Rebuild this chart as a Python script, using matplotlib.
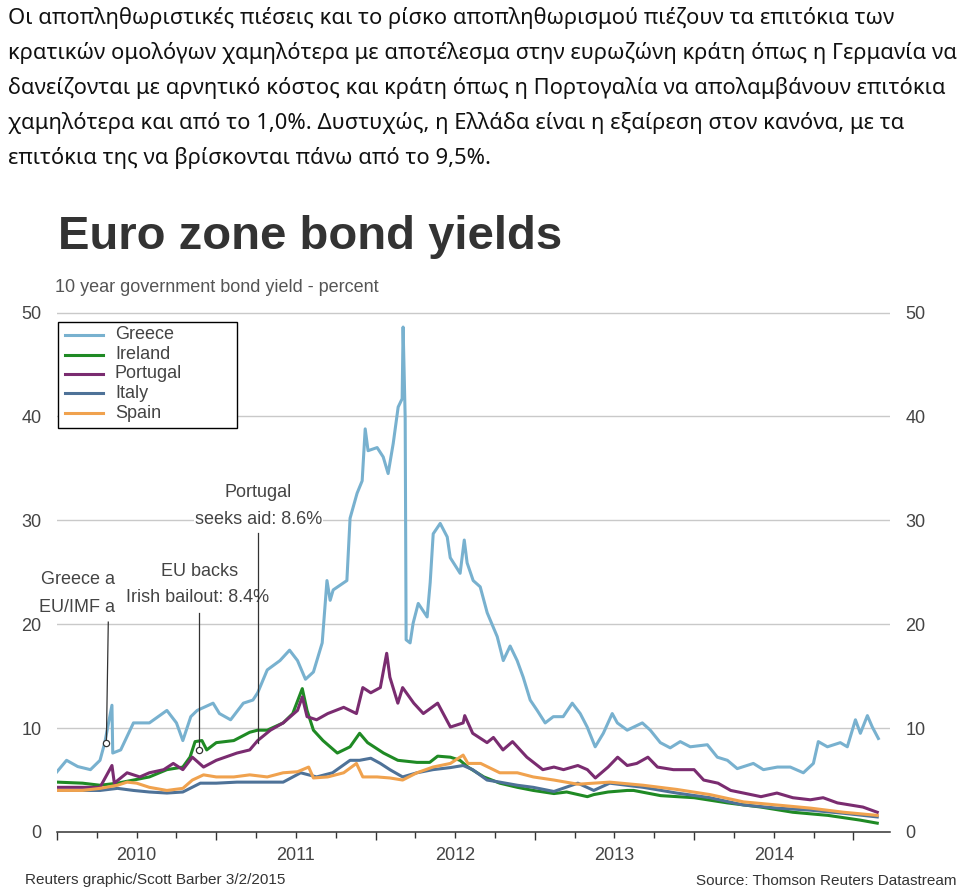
import numpy as np
import matplotlib
matplotlib.use('Agg')
import matplotlib.pyplot as plt
from matplotlib.lines import Line2D
from matplotlib.patches import Rectangle
from matplotlib.ticker import FixedLocator, FuncFormatter, NullFormatter

# ---------------- data (decimal years, percent) ----------------
greece_t = [2010.00, 2010.06, 2010.13, 2010.21, 2010.27, 2010.30, 2010.345, 2010.35, 2010.40, 2010.48,
            2010.58, 2010.69, 2010.75, 2010.79, 2010.84, 2010.88, 2010.98, 2011.02, 2011.09, 2011.17,
            2011.23, 2011.26, 2011.32, 2011.40, 2011.46, 2011.51, 2011.56, 2011.61, 2011.665, 2011.695,
            2011.715, 2011.734, 2011.82, 2011.84, 2011.884, 2011.916, 2011.935, 2011.953, 2012.01, 2012.048,
            2012.079, 2012.111, 2012.142, 2012.167, 2012.173, 2012.186, 2012.192, 2012.217, 2012.236, 2012.268,
            2012.324, 2012.343, 2012.362, 2012.406, 2012.45, 2012.469, 2012.531, 2012.557, 2012.575, 2012.613,
            2012.657, 2012.701, 2012.764, 2012.802, 2012.845, 2012.889, 2012.927, 2012.971, 2013.015, 2013.065,
            2013.116, 2013.178, 2013.235, 2013.285, 2013.329, 2013.379, 2013.43, 2013.486, 2013.518, 2013.58,
            2013.675, 2013.725, 2013.788, 2013.85, 2013.913, 2013.976, 2014.083, 2014.146, 2014.209, 2014.271,
            2014.372, 2014.435, 2014.523, 2014.604, 2014.686, 2014.749, 2014.78, 2014.837, 2014.918, 2014.962,
            2015.013, 2015.044, 2015.088, 2015.119, 2015.157]
greece_v = [5.8, 6.9, 6.3, 6.0, 6.9, 8.6, 12.2, 7.6, 7.9, 10.5,
            10.5, 11.7, 10.5, 8.8, 11.1, 11.7, 12.4, 11.4, 10.8, 12.4,
            12.7, 13.4, 15.6, 16.5, 17.5, 16.5, 14.7, 15.4, 18.2, 24.2,
            22.3, 23.3, 24.2, 30.2, 32.6, 33.8, 38.8, 36.7, 37.0, 36.1,
            34.5, 37.4, 40.9, 41.7, 48.6, 39.9, 18.5, 18.2, 20.1, 22.0,
            20.7, 24.0, 28.7, 29.7, 28.4, 26.4, 24.9, 28.1, 25.9, 24.2,
            23.6, 21.1, 18.8, 16.5, 17.9, 16.5, 14.9, 12.7, 11.7, 10.5,
            11.1, 11.1, 12.4, 11.4, 10.1, 8.2, 9.5, 11.4, 10.5, 9.8,
            10.5, 9.8, 8.6, 8.1, 8.7, 8.2, 8.4, 7.2, 6.9, 6.1,
            6.6, 6.0, 6.25, 6.25, 5.7, 6.6, 8.7, 8.2, 8.6, 8.2,
            10.8, 9.5, 11.2, 10.1, 9.0]

ireland_t = [2010.00, 2010.16, 2010.27, 2010.38, 2010.48, 2010.58, 2010.69, 2010.79, 2010.835, 2010.867,
             2010.91, 2010.94, 2011.00, 2011.11, 2011.21, 2011.26, 2011.32, 2011.42, 2011.48, 2011.54,
             2011.57, 2011.61, 2011.67, 2011.76, 2011.84, 2011.90, 2011.95, 2012.05, 2012.14, 2012.26,
             2012.34, 2012.39, 2012.47, 2012.53, 2012.58, 2012.68, 2012.78, 2012.89, 2012.99, 2013.12,
             2013.20, 2013.33, 2013.37, 2013.46, 2013.58, 2013.62, 2013.79, 2014.00, 2014.21, 2014.42,
             2014.62, 2014.84, 2015.04, 2015.15]
ireland_v = [4.8, 4.7, 4.5, 4.7, 5.0, 5.3, 6.0, 6.25, 7.2, 8.7,
             8.8, 7.9, 8.6, 8.8, 9.6, 9.8, 9.8, 10.5, 11.4, 13.8,
             11.7, 9.8, 8.8, 7.6, 8.2, 9.5, 8.6, 7.6, 6.9, 6.7,
             6.7, 7.3, 7.2, 6.9, 6.25, 5.3, 4.7, 4.3, 4.0, 3.7,
             3.85, 3.4, 3.6, 3.85, 4.0, 4.0, 3.5, 3.3, 2.8, 2.4,
             1.9, 1.6, 1.15, 0.85]

portugal_t = [2010.00, 2010.16, 2010.27, 2010.345, 2010.36, 2010.44, 2010.52, 2010.58, 2010.67, 2010.73,
              2010.79, 2010.85, 2010.92, 2011.00, 2011.13, 2011.21, 2011.26, 2011.34, 2011.42, 2011.51,
              2011.54, 2011.57, 2011.63, 2011.70, 2011.80, 2011.88, 2011.92, 2011.97, 2012.03, 2012.07,
              2012.09, 2012.14, 2012.17, 2012.24, 2012.30, 2012.39, 2012.47, 2012.55, 2012.56, 2012.61,
              2012.70, 2012.74, 2012.80, 2012.86, 2012.95, 2013.05, 2013.12, 2013.18, 2013.27, 2013.33,
              2013.38, 2013.46, 2013.52, 2013.58, 2013.64, 2013.71, 2013.77, 2013.87, 2014.00, 2014.06,
              2014.15, 2014.23, 2014.31, 2014.42, 2014.52, 2014.62, 2014.73, 2014.81, 2014.90, 2014.98,
              2015.06, 2015.15]
portugal_v = [4.3, 4.3, 4.3, 6.4, 4.7, 5.7, 5.3, 5.7, 6.0, 6.6,
              6.0, 7.2, 6.25, 6.9, 7.6, 7.9, 8.8, 9.8, 10.5, 11.7,
              13.0, 11.1, 10.8, 11.4, 12.0, 11.4, 13.9, 13.4, 13.9, 17.2,
              14.9, 12.4, 13.9, 12.4, 11.4, 12.4, 10.1, 10.5, 11.2, 9.5,
              8.6, 9.1, 7.9, 8.7, 7.2, 6.0, 6.25, 6.0, 6.4, 6.0,
              5.2, 6.25, 7.2, 6.4, 6.6, 7.2, 6.25, 6.0, 6.0, 5.0,
              4.7, 4.0, 3.75, 3.4, 3.75, 3.3, 3.1, 3.3, 2.8, 2.6,
              2.4, 1.9]

italy_t = [2010.00, 2010.16, 2010.27, 2010.38, 2010.48, 2010.58, 2010.69, 2010.79, 2010.90, 2011.00,
           2011.13, 2011.21, 2011.32, 2011.42, 2011.53, 2011.63, 2011.73, 2011.84, 2011.90, 2011.97,
           2012.03, 2012.09, 2012.17, 2012.26, 2012.36, 2012.47, 2012.55, 2012.61, 2012.70, 2012.78,
           2012.89, 2012.99, 2013.12, 2013.27, 2013.37, 2013.47, 2013.68, 2013.89, 2014.10, 2014.31,
           2014.52, 2014.73, 2014.94, 2015.15]
italy_v = [4.0, 4.0, 4.0, 4.2, 4.0, 3.85, 3.75, 3.85, 4.7, 4.7,
           4.8, 4.8, 4.8, 4.8, 5.7, 5.3, 5.7, 6.9, 6.9, 7.1,
           6.6, 6.0, 5.3, 5.7, 6.0, 6.2, 6.4, 6.0, 5.0, 4.8,
           4.5, 4.3, 3.9, 4.7, 4.0, 4.7, 4.3, 3.75, 3.3, 2.6,
           2.3, 2.1, 1.8, 1.45]

spain_t = [2010.00, 2010.16, 2010.27, 2010.38, 2010.44, 2010.50, 2010.58, 2010.69, 2010.79, 2010.85,
           2010.92, 2011.00, 2011.11, 2011.21, 2011.32, 2011.42, 2011.51, 2011.58, 2011.61, 2011.70,
           2011.80, 2011.88, 2011.92, 2012.01, 2012.09, 2012.17, 2012.26, 2012.36, 2012.47, 2012.55,
           2012.58, 2012.66, 2012.78, 2012.89, 2012.99, 2013.12, 2013.27, 2013.47, 2013.68, 2013.89,
           2014.10, 2014.31, 2014.52, 2014.73, 2014.94, 2015.15]
spain_v = [4.0, 4.0, 4.2, 4.5, 4.8, 4.7, 4.3, 4.0, 4.2, 5.0,
           5.5, 5.3, 5.3, 5.5, 5.3, 5.7, 5.8, 6.25, 5.2, 5.3,
           5.7, 6.6, 5.3, 5.3, 5.2, 5.0, 5.7, 6.25, 6.6, 7.4,
           6.6, 6.6, 5.7, 5.7, 5.3, 5.0, 4.6, 4.8, 4.5, 4.1,
           3.6, 2.9, 2.6, 2.3, 1.9, 1.6]

countries = ["Greece", "Ireland", "Portugal", "Italy", "Spain"]
colors = ["#78b1cf", "#1f8a24", "#7a2c70", "#4e7298", "#f0a24e"]
series_t = [greece_t, ireland_t, portugal_t, italy_t, spain_t]
series_v = [greece_v, ireland_v, portugal_v, italy_v, spain_v]

y_ticks = [0, 10, 20, 30, 40, 50]
years = [2010, 2011, 2012, 2013, 2014, 2015]

# annotated events: time, yield at event
events_t = [2010.31, 2010.89, 2011.26]
events_v = [8.6, 7.9, 8.6]

greek_lines = [
    "Οι αποπληθωριστικές πιέσεις και το ρίσκο αποπληθωρισμού πιέζουν τα επιτόκια των",
    "κρατικών ομολόγων χαμηλότερα με αποτέλεσμα στην ευρωζώνη κράτη όπως η Γερμανία να",
    "δανείζονται με αρνητικό κόστος και κράτη όπως η Πορτογαλία να απολαμβάνουν επιτόκια",
    "χαμηλότερα και από το 1,0%. Δυστυχώς, η Ελλάδα είναι η εξαίρεση στον κανόνα, με τα",
    "επιτόκια της να βρίσκονται πάνω από το 9,5%.",
]

# ---------------- figure ----------------
W, H = 960, 890
fig = plt.figure(figsize=(W / 100, H / 100), dpi=100)
fig.patch.set_facecolor("white")
SANS = ["Liberation Sans", "DejaVu Sans"]
TXT = "#444444"

def fy(py):
    return 1 - py / H

px_per_unit = 10.39
ax = fig.add_axes([57 / W, (H - 832) / H, 833 / W, 52 * px_per_unit / H])
ax.set_xlim(2010.0, 2015.23)
ax.set_ylim(0, 52)

for t, v, c in zip(series_t, series_v, colors):
    ax.plot(t, v, color=c, lw=2.2, solid_joinstyle="round", zorder=3)

for yv in y_ticks[1:]:
    ax.axhline(yv, color="#c9c9c9", lw=1.0, zorder=1)

for s in ["top", "left", "right"]:
    ax.spines[s].set_visible(False)
ax.spines["bottom"].set_color("#333333")
ax.spines["bottom"].set_linewidth(1.1)

ax.set_yticks(y_ticks)
ax.set_yticklabels([str(v) for v in y_ticks])
ax.tick_params(axis="y", length=0, labelleft=True, labelright=True, pad=11,
               labelsize=13, labelcolor=TXT)
for lab in ax.get_yticklabels():
    lab.set_family(SANS)

ax.xaxis.set_major_locator(FixedLocator(years))
ax.xaxis.set_major_formatter(NullFormatter())
quarters = [y + q for y in years for q in (0.25, 0.5, 0.75)]
ax.xaxis.set_minor_locator(FixedLocator(quarters))
ax.xaxis.set_minor_formatter(FuncFormatter(
    lambda v, p: str(int(v)) if abs(v - int(v) - 0.5) < 1e-6 else ""))
ax.tick_params(axis="x", which="major", length=6, width=1.0, color="#333333", direction="out")
ax.tick_params(axis="x", which="minor", length=4, width=1.0, color="#333333", direction="out",
               pad=7, labelsize=13, labelcolor=TXT)
for lab in ax.get_xticklabels(minor=True):
    lab.set_family(SANS)

# annotations
tops = [20.2, 21.1, 28.75]
for i, (et, ev, tp) in enumerate(zip(events_t, events_v, tops)):
    ax.plot([et + (0.012 if i == 0 else 0), et], [tp, ev], color="#333333", lw=0.9, zorder=5)
for et, ev in zip(events_t[:2], events_v[:2]):
    ax.plot([et], [ev], marker="o", ms=4.5, mfc="white", mec="#333333", mew=0.9, zorder=6)

bb = dict(facecolor="white", edgecolor="none", pad=0.5)
ax.text(2010.364, 24.35, "Greece a", ha="right", va="center", fontsize=13, color=TXT,
        family=SANS, zorder=4)
ax.text(2010.364, 21.65, "EU/IMF a", ha="right", va="center", fontsize=13, color=TXT,
        family=SANS, zorder=4)
ax.text(2010.898, 25.1, "EU backs", ha="center", va="center", fontsize=13, color=TXT,
        family=SANS, zorder=4)
ax.text(2010.882, 22.6, "Irish bailout: 8.4%", ha="center", va="center", fontsize=13, color=TXT,
        family=SANS, zorder=4, bbox=bb)
ax.text(2011.263, 32.7, "Portugal", ha="center", va="center", fontsize=13, color=TXT,
        family=SANS, zorder=4)
ax.text(2011.263, 30.1, "seeks aid: 8.6%", ha="center", va="center", fontsize=13, color=TXT,
        family=SANS, zorder=4, bbox=bb)

# legend (box + entries)
fig.patches.append(Rectangle((58 / W, fy(428)), (237 - 58) / W, (428 - 322) / H,
                             transform=fig.transFigure, facecolor="white",
                             edgecolor="black", lw=1.0, zorder=10))
for i, (name, c) in enumerate(zip(countries, colors)):
    yy = fy(335 + 19.5 * i)
    fig.lines.append(Line2D([65 / W, 103 / W], [yy, yy], transform=fig.transFigure,
                            color=c, lw=2.2, zorder=11))
    fig.text(115 / W, yy, name, ha="left", va="center", fontsize=13, color=TXT,
             family=SANS, zorder=11)

# titles
fig.text(58 / W, fy(249), "Euro zone bond yields", ha="left", va="baseline",
         fontsize=34, fontweight="bold", color="#333333", family=SANS)
fig.text(55 / W, fy(288), "10 year government bond yield - percent", ha="left", va="center",
         fontsize=13, color="#555555", family=SANS)
fig.text(25 / W, fy(880), "Reuters graphic/Scott Barber 3/2/2015", ha="left", va="center",
         fontsize=11, color="#333333", family=SANS)
fig.text(956 / W, fy(881), "Source: Thomson Reuters Datastream", ha="right", va="center",
         fontsize=11, color="#333333", family=SANS)

# Greek paragraph, sized so that the longest line fits the width
targets = [912, 950, 950, 905, 505]
gtexts = []
for i, line in enumerate(greek_lines):
    gtexts.append(fig.text(8 / W, fy(18 + 35 * i), line, ha="left", va="center",
                           fontsize=15, color="#111111", family=["Noto Sans", "DejaVu Sans"]))
fig.canvas.draw()
fs = min(15 * tg / t.get_window_extent().width for t, tg in zip(gtexts, targets))
for t in gtexts:
    t.set_fontsize(fs)

fig.savefig("out.png", dpi=100, facecolor="white")
